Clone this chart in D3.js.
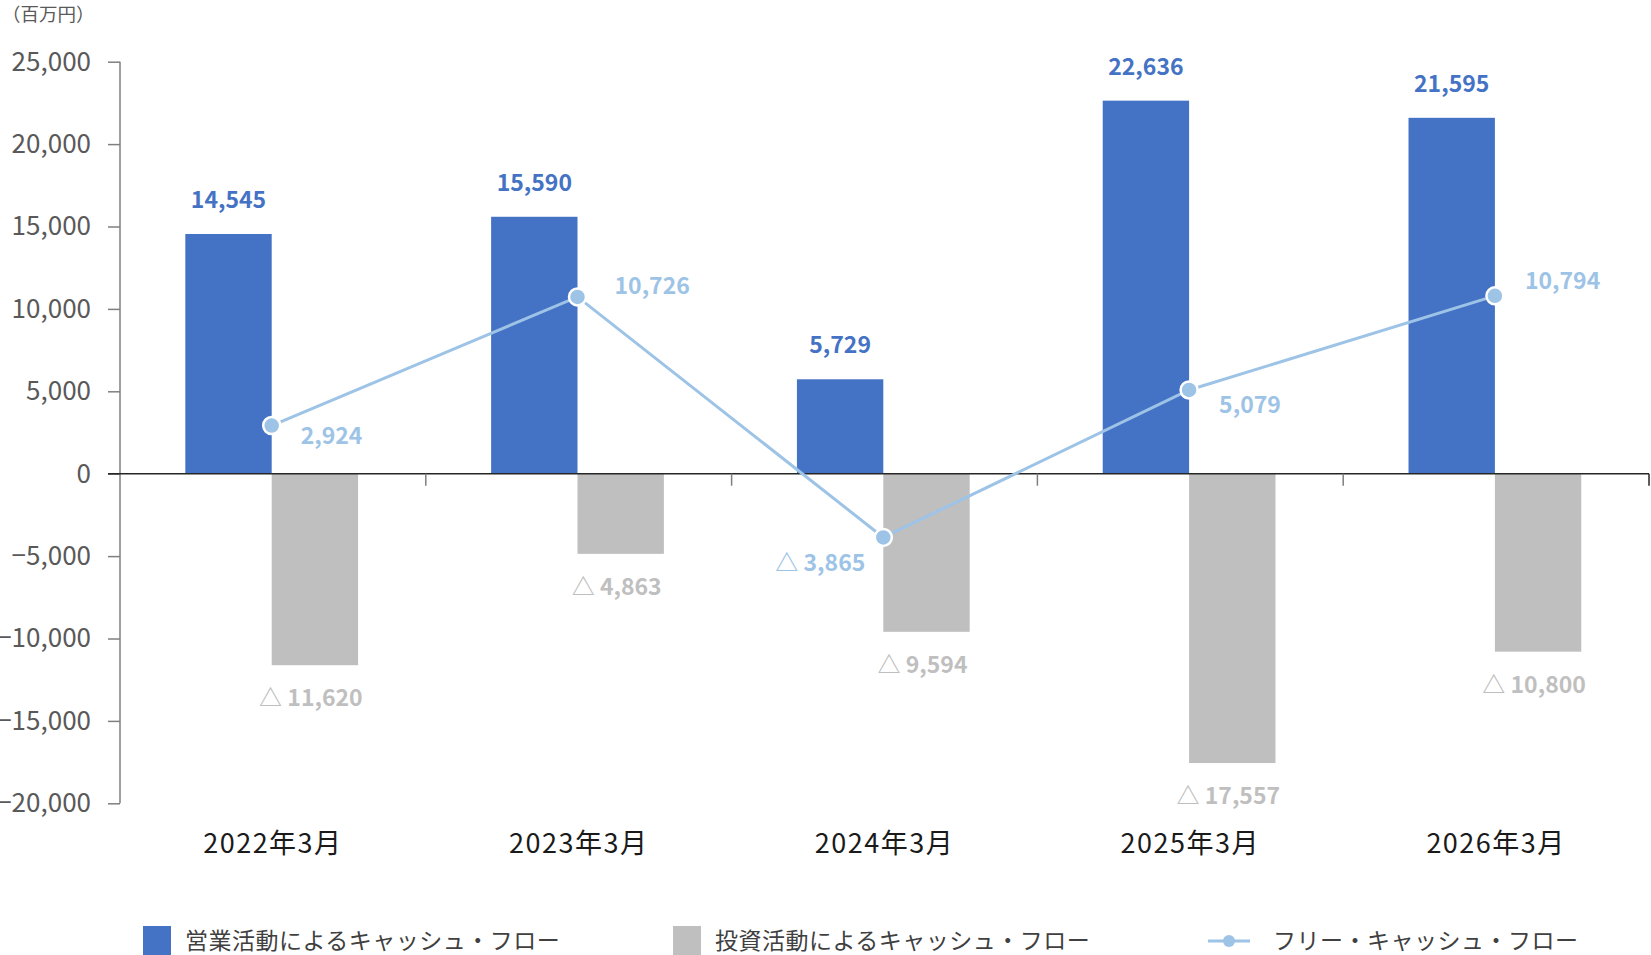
<!DOCTYPE html>
<html>
<head>
<meta charset="utf-8">
<script src="https://cdn.jsdelivr.net/npm/d3@7"></script>
<style>
  body { margin: 0; background: #fff; }
  svg { display: block; font-family: "Noto Sans CJK JP", "Noto Sans", sans-serif; }
</style>
</head>
<body>
<div id="chart"></div>
<script>
// data
var years = ["2022年3月", "2023年3月", "2024年3月", "2025年3月", "2026年3月"];
var operatingCF = [14545, 15590, 5729, 22636, 21595];
var investingCF = [-11620, -4863, -9594, -17557, -10800];
var freeCF = [2924, 10726, -3865, 5079, 10794];
var yTicks = [25000, 20000, 15000, 10000, 5000, 0, -5000, -10000, -15000, -20000];
var seriesNames = ["営業活動によるキャッシュ・フロー", "投資活動によるキャッシュ・フロー", "フリー・キャッシュ・フロー"];

// label placement for the free cash flow points [dx, dy, anchor]
var fcfLabelPos = [[29, 10, "start"], [37, -11, "start"], [-18, 26, "end"], [30, 15, "start"], [30, -15, "start"]];

var W = 1651, H = 955;
var blue = "#4472C4", grey = "#BFBFBF", light = "#9DC3E6";

var svg = d3.select("#chart").append("svg")
  .attr("width", W)
  .attr("height", H);

// scales
var x = d3.scaleBand()
  .domain(years)
  .range([120, 1649])
  .padding(0);

var xs = d3.scaleBand()
  .domain(["op", "inv"])
  .range([-1.2, x.bandwidth() - 1.2])
  .paddingInner(0)
  .paddingOuter(0.77);

var y = d3.scaleLinear()
  .domain([-20000, 25000])
  .range([803.3, 61.7]);

var fmt = d3.format(",");
function tri(v) { return v < 0 ? "△ " + fmt(-v) : fmt(v); }

// unit label
svg.append("text")
  .attr("x", 2)
  .attr("y", 15)
  .attr("dy", "0.35em")
  .style("font-size", "18.5px")
  .style("fill", "#595959")
  .text("（百万円）");

// Y axis
var yAxis = svg.append("g")
  .attr("transform", "translate(120,0)")
  .call(d3.axisLeft(y).tickValues(yTicks).tickSize(12).tickPadding(17).tickFormat(fmt));
yAxis.select(".domain").attr("stroke", "#7f7f7f").attr("stroke-width", 1.5).attr("d", "M0," + y(25000) + "V" + y(-20000));
yAxis.selectAll(".tick line").attr("stroke", "#7f7f7f").attr("stroke-width", 1.5);
yAxis.selectAll(".tick text")
  .style("font-size", "26px")
  .style("fill", "#595959")
  .style("font-family", "'Noto Sans CJK JP', sans-serif");

// bars
var g = svg.append("g");
g.selectAll(".op")
  .data(operatingCF)
  .enter()
  .append("rect")
    .attr("class", "op")
    .attr("x", function(d, i) { return x(years[i]) + xs("op"); })
    .attr("y", function(d) { return y(d); })
    .attr("width", xs.bandwidth())
    .attr("height", function(d) { return y(0) - y(d); })
    .style("fill", blue);

g.selectAll(".inv")
  .data(investingCF)
  .enter()
  .append("rect")
    .attr("class", "inv")
    .attr("x", function(d, i) { return x(years[i]) + xs("inv"); })
    .attr("y", y(0))
    .attr("width", xs.bandwidth())
    .attr("height", function(d) { return y(d) - y(0); })
    .style("fill", grey);

// zero line + category ticks
svg.append("line")
  .attr("x1", 108).attr("x2", 1649)
  .attr("y1", y(0)).attr("y2", y(0))
  .attr("stroke", "#262626")
  .attr("stroke-width", 1.5);

svg.selectAll(".ctick")
  .data(years.slice(1).concat(["end"]))
  .enter()
  .append("line")
    .attr("x1", function(d, i) { return x.range()[0] + x.step() * (i + 1); })
    .attr("x2", function(d, i) { return x.range()[0] + x.step() * (i + 1); })
    .attr("y1", y(0))
    .attr("y2", y(0) + 12)
    .attr("stroke", function(d) { return d == "end" ? "#262626" : "#7f7f7f"; })
    .attr("stroke-width", 1.5);

// category labels
svg.selectAll(".cat")
  .data(years)
  .enter()
  .append("text")
    .attr("x", function(d) { return x(d) + x.bandwidth() / 2; })
    .attr("y", 844)
    .attr("dy", "0.35em")
    .attr("text-anchor", "middle")
    .style("font-size", "27px")
    .style("fill", "#1a1a1a")
    .style("letter-spacing", "1.5px")
    .text(function(d) { return d; });

// bar labels
svg.selectAll(".oplabel")
  .data(operatingCF)
  .enter()
  .append("text")
    .attr("x", function(d, i) { return x(years[i]) + xs("op") + xs.bandwidth() / 2; })
    .attr("y", function(d) { return y(d) - 34; })
    .attr("dy", "0.35em")
    .attr("text-anchor", "middle")
    .style("font-size", "23px")
    .style("font-weight", "bold")
    .style("fill", blue)
    .text(function(d) { return tri(d); });

svg.selectAll(".invlabel")
  .data(investingCF)
  .enter()
  .append("text")
    .attr("x", function(d, i) { return x(years[i]) + xs("inv") + xs.bandwidth() / 2 - 4; })
    .attr("y", function(d) { return y(d) + 33; })
    .attr("dy", "0.35em")
    .attr("text-anchor", "middle")
    .style("font-size", "23px")
    .style("font-weight", "bold")
    .style("fill", grey)
    .text(function(d) { return tri(d); });

// free cash flow line
var cx = function(d, i) { return x(years[i]) + xs("inv"); };
svg.append("path")
  .datum(freeCF)
  .attr("fill", "none")
  .attr("stroke", light)
  .attr("stroke-width", 3)
  .attr("d", d3.line()
    .x(cx)
    .y(function(d) { return y(d); }));

svg.selectAll(".dot")
  .data(freeCF)
  .enter()
  .append("circle")
    .attr("cx", cx)
    .attr("cy", function(d) { return y(d); })
    .attr("r", 8.5)
    .style("fill", light)
    .style("stroke", "#fff")
    .style("stroke-width", 2.5);

svg.selectAll(".fcflabel")
  .data(freeCF)
  .enter()
  .append("text")
    .attr("x", function(d, i) { return cx(d, i) + fcfLabelPos[i][0]; })
    .attr("y", function(d, i) { return y(d) + fcfLabelPos[i][1]; })
    .attr("dy", "0.35em")
    .attr("text-anchor", function(d, i) { return fcfLabelPos[i][2]; })
    .style("font-size", "23px")
    .style("font-weight", "bold")
    .style("fill", light)
    .text(function(d) { return tri(d); });

// legend
var legend = svg.append("g").attr("transform", "translate(0,941)");
var legX = [143, 673, 1208];
var legColors = [blue, grey, light];

legend.selectAll(".sw")
  .data(seriesNames.slice(0, 2))
  .enter()
  .append("rect")
    .attr("x", function(d, i) { return legX[i]; })
    .attr("y", -15)
    .attr("width", 28)
    .attr("height", 30)
    .style("fill", function(d, i) { return legColors[i]; });

legend.append("line")
  .attr("x1", legX[2]).attr("x2", legX[2] + 42)
  .attr("y1", 0).attr("y2", 0)
  .attr("stroke", light)
  .attr("stroke-width", 3);
legend.append("circle")
  .attr("cx", legX[2] + 21)
  .attr("cy", 0)
  .attr("r", 6)
  .style("fill", light);

legend.selectAll(".lt")
  .data(seriesNames)
  .enter()
  .append("text")
    .attr("x", function(d, i) { return i < 2 ? legX[i] + 42 : legX[i] + 65; })
    .attr("y", 0)
    .attr("dy", "0.35em")
    .style("font-size", "23px")
    .style("letter-spacing", "0.5px")
    .style("fill", "#404040")
    .text(function(d) { return d; });
</script>
</body>
</html>
